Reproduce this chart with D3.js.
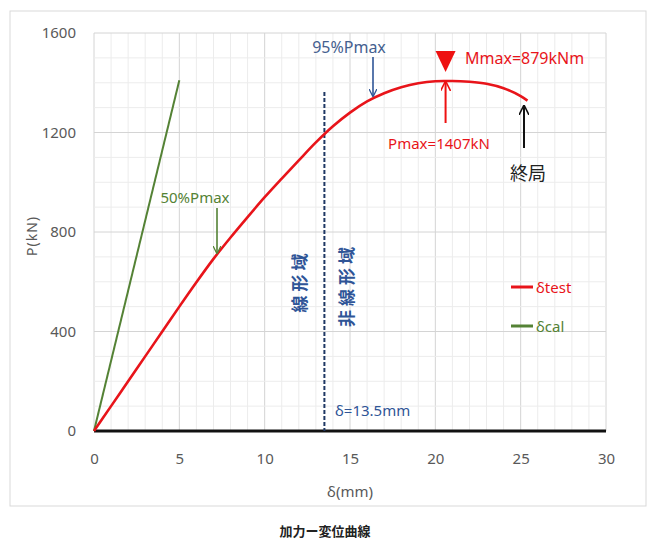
<!DOCTYPE html>
<html>
<head>
<meta charset="utf-8">
<script src="https://cdn.jsdelivr.net/npm/d3@7"></script>
<style>
  body { margin: 0; background: #fff; }
  svg { display: block; font-family: "Noto Sans", "Noto Sans CJK JP", sans-serif; }
</style>
</head>
<body>
<div id="chart"></div>
<script>
// -----------------------------
// Data
// -----------------------------
const testDelta = [0, 1, 2, 3, 4, 5, 6, 7, 8, 9, 10, 11, 12, 13, 14, 15, 16, 17, 18, 19, 20, 20.5, 21, 22, 23, 24, 25, 25.4];
const testLoad  = [0, 100, 200, 300, 400, 500, 598, 692, 778, 860, 940, 1015, 1088, 1160, 1225, 1280, 1325, 1358, 1382, 1398, 1406, 1407, 1407, 1404, 1396, 1378, 1346, 1328];
const calDelta = [0, 5];
const calLoad  = [0, 1410];

const xTicks = [0, 5, 10, 15, 20, 25, 30];
const yTicks = [0, 400, 800, 1200, 1600];

const W = 649, H = 545;
const M = { left: 94, right: 606, top: 33, bottom: 431 };

const svg = d3.select("#chart").append("svg").attr("width", W).attr("height", H);

const defs = svg.append("defs");
function marker(id, color) {
  defs.append("marker")
    .attr("id", id).attr("viewBox", "0 0 10 10")
    .attr("refX", 9).attr("refY", 5)
    .attr("markerWidth", 5).attr("markerHeight", 5)
    .attr("markerUnits", "strokeWidth")
    .attr("orient", "auto")
    .append("path").attr("d", "M0,0 L10,5 L0,10").attr("fill", "none")
    .attr("stroke", color).attr("stroke-width", 1.6);
}
marker("arr-green", "#548235");
marker("arr-blue", "#2f5597");
marker("arr-red", "#ee1111");
marker("arr-black", "#111");

// outer frame
svg.append("rect").attr("x", 10).attr("y", 11).attr("width", 636).attr("height", 495)
  .attr("fill", "none").attr("stroke", "#d9d9d9");

const x = d3.scaleLinear().domain([0, 30]).range([M.left, M.right]);
const y = d3.scaleLinear().domain([0, 1600]).range([M.bottom, M.top]);

// -----------------------------
// Grid
// -----------------------------
const grid = svg.append("g");
grid.selectAll("line.minx").data(d3.range(0, 31, 1)).join("line")
  .attr("x1", d => x(d)).attr("x2", d => x(d)).attr("y1", M.top).attr("y2", M.bottom)
  .attr("stroke", d => d % 5 === 0 ? "#d4d4d4" : "#ececec").attr("stroke-width", 1);
grid.selectAll("line.miny").data(d3.range(0, 1601, 100)).join("line")
  .attr("y1", d => y(d)).attr("y2", d => y(d)).attr("x1", M.left).attr("x2", M.right)
  .attr("stroke", d => d % 400 === 0 ? "#d4d4d4" : "#ececec").attr("stroke-width", 1);

// axes (labels only)
const xAxis = svg.append("g").attr("transform", `translate(0,${M.bottom})`)
  .call(d3.axisBottom(x).tickValues(xTicks).tickFormat(d3.format("d")).tickSize(0).tickPadding(22));
xAxis.select(".domain").remove();
xAxis.selectAll("text").attr("font-size", 15).attr("fill", "#595959").attr("font-family", "Noto Sans");

const yAxis = svg.append("g").attr("transform", `translate(${M.left},0)`)
  .call(d3.axisLeft(y).tickValues(yTicks).tickFormat(d3.format("d")).tickSize(0).tickPadding(18));
yAxis.select(".domain").remove();
yAxis.selectAll("text").attr("font-size", 15).attr("fill", "#595959").attr("font-family", "Noto Sans");

// base line
svg.append("line").attr("x1", x(0)).attr("x2", x(30)).attr("y1", y(0)).attr("y2", y(0))
  .attr("stroke", "#111").attr("stroke-width", 3);

// axis titles
svg.append("text").attr("x", x(15)).attr("y", 497).attr("text-anchor", "middle")
  .attr("font-size", 15).attr("fill", "#595959").text("δ(mm)");
svg.append("text").attr("transform", "translate(37,236) rotate(-90)").attr("text-anchor", "middle")
  .attr("font-size", 14).attr("fill", "#595959").attr("letter-spacing", 1).text("P(kN)");

// -----------------------------
// Lines
// -----------------------------
const line = d3.line().x(d => x(d[0])).y(d => y(d[1])).curve(d3.curveMonotoneX);

svg.append("path").datum(d3.zip(calDelta, calLoad)).attr("d", line)
  .attr("fill", "none").attr("stroke", "#548235").attr("stroke-width", 2);

// boundary δ=13.5
svg.append("line").attr("x1", x(13.5)).attr("x2", x(13.5)).attr("y1", 92).attr("y2", y(0))
  .attr("stroke", "#1f3864").attr("stroke-width", 2).attr("stroke-dasharray", "4,2");

svg.append("path").datum(d3.zip(testDelta, testLoad)).attr("d", line)
  .attr("fill", "none").attr("stroke", "#e8141a").attr("stroke-width", 2.6);

// -----------------------------
// Annotations
// -----------------------------
function arrow(x1, y1, x2, y2, color, id, w) {
  svg.append("line").attr("x1", x1).attr("y1", y1).attr("x2", x2).attr("y2", y2)
    .attr("stroke", color).attr("stroke-width", w || 1.6).attr("marker-end", `url(#${id})`);
}
function label(tx, ty, txt, color, size, anchor) {
  return svg.append("text").attr("x", tx).attr("y", ty).attr("text-anchor", anchor || "start")
    .attr("dominant-baseline", "central").attr("font-size", size).attr("fill", color).text(txt);
}

label(195, 197, "50%Pmax", "#548235", 15, "middle");
arrow(217, 208, 217, 253, "#548235", "arr-green");

label(349, 47, "95%Pmax", "#44608f", 16, "middle");
arrow(373, 57, 373, 96, "#2f5597", "arr-blue");

const px = x(20.6);
svg.append("path").attr("d", `M${px - 10},51 L${px + 10},51 L${px},72 Z`).attr("fill", "#ee1111");
label(465, 58, "Mmax=879kNm", "#e8141a", 16);
arrow(px, 123, px, 82, "#ee1111", "arr-red", 2);
label(439, 143, "Pmax=1407kN", "#e8141a", 15, "middle");

arrow(524, 148, 524, 106, "#111", "arr-black", 2);
label(528, 173, "終局", "#222", 18, "middle");

svg.append("text").attr("transform", "translate(299,281) rotate(-90)").attr("text-anchor", "middle")
  .attr("dominant-baseline", "central").attr("font-size", 17).attr("font-weight", "bold")
  .attr("fill", "#2f5597").attr("letter-spacing", 4).text("線形域");
svg.append("text").attr("transform", "translate(346,285) rotate(-90)").attr("text-anchor", "middle")
  .attr("dominant-baseline", "central").attr("font-size", 17).attr("font-weight", "bold")
  .attr("fill", "#2f5597").attr("letter-spacing", 4).text("非線形域");

label(335, 410, "δ=13.5mm", "#2f5597", 15);

// legend
const legend = [{ name: "δtest", color: "#e8141a", y: 287 }, { name: "δcal", color: "#548235", y: 326 }];
legend.forEach(l => {
  svg.append("line").attr("x1", 511).attr("x2", 533).attr("y1", l.y).attr("y2", l.y)
    .attr("stroke", l.color).attr("stroke-width", 3);
  label(536, l.y, l.name, l.color, 15);
});

// caption
svg.append("text").attr("x", 325).attr("y", 531).attr("text-anchor", "middle")
  .attr("dominant-baseline", "central").attr("font-size", 13).attr("font-weight", "bold")
  .attr("fill", "#222").text("加力ー変位曲線");
</script>
</body>
</html>
